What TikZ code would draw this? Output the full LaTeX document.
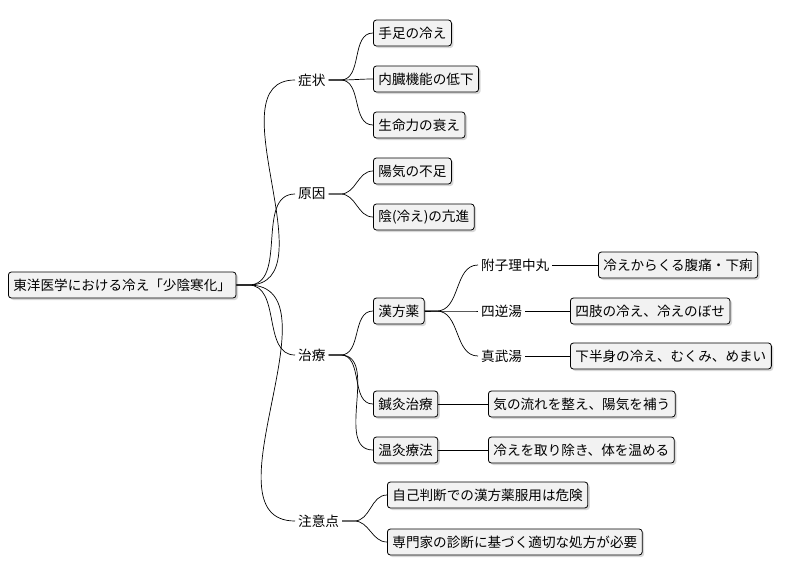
\documentclass[tikz,border=0pt]{standalone}
\usepackage{fontspec}
\setmainfont{Noto Sans CJK JP}
\usetikzlibrary{shadows}
\begin{document}
\begin{tikzpicture}[x=1pt,y=-1pt,font=\fontsize{13.6}{15}\selectfont,
 bx/.style={draw=black,line width=0.8pt,fill=gray!10,rounded corners=3pt,anchor=west,minimum height=26,inner xsep=5pt,drop shadow={shadow xshift=2pt,shadow yshift=-2pt,fill=gray!60}},
 tx/.style={anchor=west,inner xsep=3pt},
 ln/.style={line width=0.7pt}]
\useasboundingbox (0,0) rectangle (788,576);
\node[bx] (root) at (8,285) {東洋医学における冷え「少陰寒化」};
\node[tx] (s) at (295,80) {症状};
\node[bx] (s1) at (373,33) {手足の冷え};
\node[bx] (s2) at (373,79) {内臓機能の低下};
\node[bx] (s3) at (373,125) {生命力の衰え};
\node[tx] (g) at (295,194) {原因};
\node[bx] (g1) at (373,171) {陽気の不足};
\node[bx] (g2) at (373,217) {陰(冷え)の亢進};
\node[tx] (t) at (295,355) {治療};
\node[bx] (k) at (373,311) {漢方薬};
\node[tx] (k1) at (478,265) {附子理中丸};
\node[bx] (k1a) at (598,265) {冷えからくる腹痛・下痢};
\node[tx] (k2) at (478,311) {四逆湯};
\node[bx] (k2a) at (570,311) {四肢の冷え、冷えのぼせ};
\node[tx] (k3) at (478,356) {真武湯};
\node[bx] (k3a) at (570,356) {下半身の冷え、むくみ、めまい};
\node[bx] (h) at (373,404) {鍼灸治療};
\node[bx] (ha) at (488,404) {気の流れを整え、陽気を補う};
\node[bx] (o) at (373,450) {温灸療法};
\node[bx] (oa) at (488,450) {冷えを取り除き、体を温める};
\node[tx] (c) at (295,521) {注意点};
\node[bx] (c1) at (387,495) {自己判断での漢方薬服用は危険};
\node[bx] (c2) at (387,542) {専門家の診断に基づく適切な処方が必要};
\foreach \p/\c in {root/s,root/g,root/t,root/c,s/s1,s/s2,s/s3,g/g1,g/g2,t/k,t/h,t/o,c/c1,c/c2,k/k1,k/k2,k/k3}
  \draw[ln] (\p.east) -- ++(12,0) to[out=0,in=180] (\c.west);
\foreach \p/\c in {k1/k1a,k2/k2a,k3/k3a,h/ha,o/oa}
  \draw[ln] (\p.east) -- (\c.west);
\end{tikzpicture}
\end{document}
